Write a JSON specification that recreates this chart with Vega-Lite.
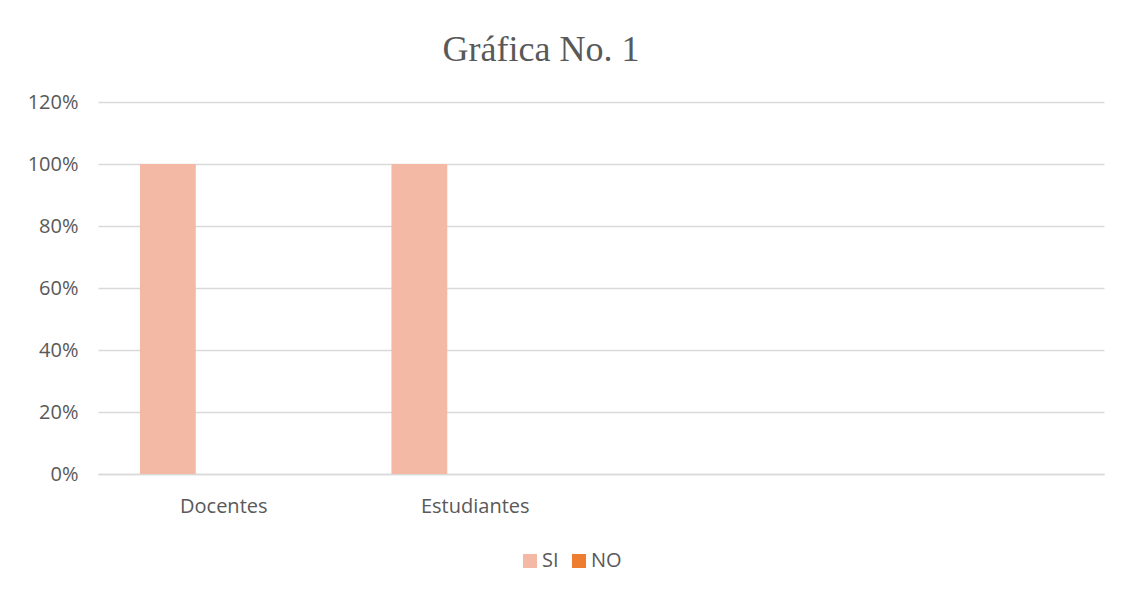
{
  "$schema": "https://vega.github.io/schema/vega-lite/v6.json",
  "width": 1006,
  "height": 372,
  "autosize": {"type": "none"},
  "padding": {"left": 98, "top": 102, "right": 18, "bottom": 120},
  "background": "#ffffff",
  "title": {
    "text": "Gráfica No. 1",
    "font": "Liberation Serif",
    "fontSize": 36,
    "fontWeight": "normal",
    "color": "#595959",
    "anchor": "middle",
    "dx": -60,
    "offset": 23
  },
  "data": {
    "values": [
      {"grupo": "Docentes", "serie": "SI", "valor": 1.0},
      {"grupo": "Docentes", "serie": "NO", "valor": 0.0},
      {"grupo": "Estudiantes", "serie": "SI", "valor": 1.0},
      {"grupo": "Estudiantes", "serie": "NO", "valor": 0.0}
    ]
  },
  "mark": {"type": "bar"},
  "encoding": {
    "x": {
      "field": "grupo",
      "type": "nominal",
      "sort": null,
      "scale": {"domain": ["Docentes", "Estudiantes", "c3", "c4"], "paddingInner": 0.3333, "paddingOuter": 0.1667},
      "axis": {
        "title": null,
        "labelAngle": 0,
        "labelExpr": "indexof(['c3','c4'], datum.value) >= 0 ? '' : datum.label",
        "ticks": false,
        "tickSize": 0,
        "labelPadding": 22,
        "labelFont": "Open Sans",
        "labelFontSize": 20,
        "labelColor": "#595959",
        "domainColor": "#D9D9D9",
        "domainWidth": 1.5,
        "grid": false
      }
    },
    "xOffset": {
      "field": "serie",
      "type": "nominal",
      "scale": {"domain": ["SI", "NO", "Z"], "paddingInner": 0, "paddingOuter": 0}
    },
    "y": {
      "field": "valor",
      "type": "quantitative",
      "scale": {"domain": [0, 1.2], "nice": false},
      "axis": {
        "title": null,
        "values": [0, 0.2, 0.4, 0.6, 0.8, 1.0, 1.2],
        "format": ".0%",
        "domain": false,
        "ticks": false,
        "tickSize": 0,
        "labelPadding": 20,
        "labelFont": "Open Sans",
        "labelFontSize": 20,
        "labelColor": "#595959",
        "gridColor": "#D9D9D9",
        "gridWidth": 1.3
      }
    },
    "color": {
      "field": "serie",
      "type": "nominal",
      "scale": {"domain": ["SI", "NO", "Z"], "range": ["#F4B9A5", "#ED7D31", "#A5A5A5"]},
      "legend": {
        "title": null,
        "values": ["SI", "NO"],
        "orient": "none",
        "direction": "horizontal",
        "legendX": 422,
        "legendY": 449,
        "padding": 0,
        "symbolType": "square",
        "symbolSize": 196,
        "symbolStrokeWidth": 0,
        "labelFont": "Open Sans",
        "labelFontSize": 20,
        "labelColor": "#595959",
        "labelOffset": 2,
        "columnPadding": 10
      }
    }
  },
  "config": {
    "view": {"stroke": null}
  }
}
